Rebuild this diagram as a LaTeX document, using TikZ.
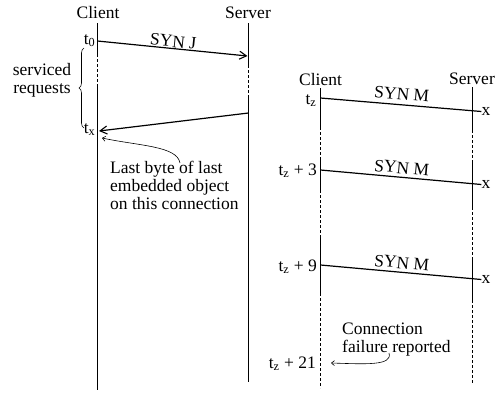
\documentclass[tikz,border=0pt]{standalone}
\usepackage{fontspec}
\setmainfont{Liberation Serif}
\usetikzlibrary{arrows.meta,decorations.pathreplacing}

\begin{document}
\begin{tikzpicture}[x=1pt,y=-1pt,
  font=\fontsize{17.5}{18}\selectfont,
  life/.style={line width=1pt},
  idle/.style={line width=0.8pt, dash pattern=on 3pt off 2pt},
  msg/.style={line width=1.2pt},
  msgarrow/.style={msg, -{Straight Barb[length=7pt,width=8pt,line width=1.1pt]}},
  lbl/.style={inner sep=0pt},
  note/.style={line width=0.6pt, -{Straight Barb[length=3pt,width=5pt]}}]
\useasboundingbox (0,0) rectangle (495,392);

% ---- first connection: column headers
\node[lbl] (cl1) at (98,13) {Client};
\node[lbl] (sv1) at (248,13) {Server};

% client time line
\coordinate (c1t) at (97.5,23);
\coordinate (c1a) at (97.5,54);
\coordinate (c1b) at (97.5,86);
\coordinate (c1e) at (97.5,390);
\draw[life] (c1t) -- (c1a);
\draw[idle] (c1a) -- (c1b);
\draw[life] (c1b) -- (c1e);

% server time line
\coordinate (s1t) at (248.5,23);
\coordinate (s1a) at (248.5,65);
\coordinate (s1b) at (248.5,95);
\coordinate (s1e) at (248.5,382);
\draw[life] (s1t) -- (s1a);
\draw[idle] (s1a) -- (s1b);
\draw[life] (s1b) -- (s1e);

% SYN J and the last reply
\coordinate (j0) at (97.5,41);
\coordinate (j1) at (247.5,56);
\draw[msgarrow] (j0) -- node[lbl, sloped, above=0.5pt] (synj) {SYN J} (j1);
\coordinate (r0) at (248.5,113);
\coordinate (r1) at (99,131);
\draw[msgarrow] (r0) -- (r1);

\node[lbl, anchor=base east] (t0) at (95.5,44) {t\textsubscript{0}};
\node[lbl, anchor=base east] (tx) at (95.5,133) {t\textsubscript{x}};

% serviced requests brace
\coordinate (br1) at (84,128);
\coordinate (br2) at (84,48);
\draw[line width=0.6pt, decorate, decoration={brace, amplitude=5pt}] (br1) -- (br2);
\node[lbl, align=center] (serv) at (42,80) {serviced\\requests};

% note on the last byte
\node[lbl, align=left, anchor=north west] (lastbyte) at (110,161)
  {Last byte of last\\embedded object\\on this connection};
\coordinate (lb0) at (180,163);
\coordinate (lb1) at (102,138);
\draw[note] (lb0) .. controls (177,146) and (140,146) .. (lb1);

% ---- second connection: column headers
\node[lbl] (cl2) at (320.5,80) {Client};
\node[lbl] (sv2) at (472,79) {Server};

% client time line
\coordinate (c2t) at (320.5,88);
\coordinate (c2a) at (320.5,127);
\coordinate (c2b) at (320.5,158);
\coordinate (c2c) at (320.5,190);
\coordinate (c2d) at (320.5,237);
\coordinate (c2f) at (320.5,293);
\coordinate (c2e) at (320.5,388);
\draw[life] (c2t) -- (c2a);
\draw[idle] (c2a) -- (c2b);
\draw[life] (c2b) -- (c2c);
\draw[idle] (c2c) -- (c2d);
\draw[life] (c2d) -- (c2f);
\draw[idle] (c2f) -- (c2e);

% server time line
\coordinate (s2t) at (472.5,87);
\coordinate (s2a) at (472.5,130);
\coordinate (s2b) at (472.5,163);
\coordinate (s2c) at (472.5,207);
\coordinate (s2d) at (472.5,257);
\coordinate (s2f) at (472.5,300);
\coordinate (s2e) at (472.5,384);
\draw[life] (s2t) -- (s2a);
\draw[idle] (s2a) -- (s2b);
\draw[life] (s2b) -- (s2c);
\draw[idle] (s2c) -- (s2d);
\draw[life] (s2d) -- (s2f);
\draw[idle] (s2f) -- (s2e);

% lost SYN M attempts
\coordinate (m1) at (320.5,98);
\node[lbl] (x1) at (486,111.5) {x};
\draw[msg] (m1) -- node[lbl, sloped, above=4pt] (syn1) {SYN M} (x1.west);

\coordinate (m2) at (320.5,170);
\node[lbl] (x2) at (486,184.5) {x};
\draw[msg] (m2) -- node[lbl, sloped, above=3pt] (syn2) {SYN M} (x2.west);

\coordinate (m3) at (320.5,265);
\node[lbl] (x3) at (486,279.5) {x};
\draw[msg] (m3) -- node[lbl, sloped, above=3pt] (syn3) {SYN M} (x3.west);

\node[lbl, anchor=base east] (tz) at (316.5,104) {t\textsubscript{z}};
\node[lbl, anchor=base east] (tz3) at (317,175) {t\textsubscript{z} + 3};
\node[lbl, anchor=base east] (tz9) at (317,271) {t\textsubscript{z} + 9};
\node[lbl, anchor=base east] (tz21) at (316,368) {t\textsubscript{z} + 21};

% failure note
\node[lbl, align=left, anchor=north west] (fail) at (342,323)
  {Connection\\failure reported};
\coordinate (f0) at (389,353);
\coordinate (f1) at (331,363);
\draw[note] (f0) .. controls (393,366) and (365,364) .. (f1);
\end{tikzpicture}
\end{document}
